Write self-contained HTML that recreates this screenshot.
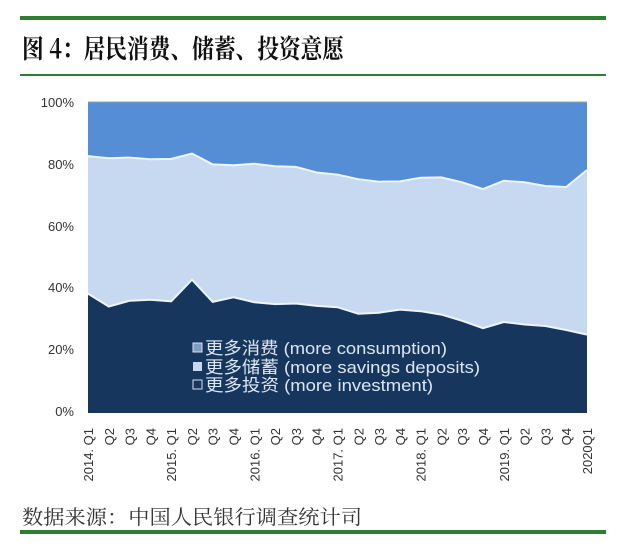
<!DOCTYPE html>
<html><head><meta charset="utf-8"><style>
html,body{margin:0;padding:0;background:#fff;}
svg{display:block;}
</style></head><body>
<svg width="624" height="550" xmlns="http://www.w3.org/2000/svg">
<rect x="20" y="16" width="586" height="4" fill="#2e7d32"/>
<text x="22" y="58" textLength="322" lengthAdjust="spacingAndGlyphs" font-family="'Noto Serif CJK SC','Liberation Serif',serif" font-weight="bold" font-size="26" fill="#111">图 4：居民消费、储蓄、投资意愿</text>
<rect x="20" y="74" width="586" height="2" fill="#2e7d32"/>

<rect x="88" y="102" width="499" height="311" fill="#558ed5"/>
<polygon fill="#c6d9f0" points="88,156.1 108.8,158.2 129.6,157.6 150.4,159.2 171.2,158.9 192,153.6 212.7,164.4 233.5,165.3 254.3,163.8 275.1,166.3 295.9,166.9 316.7,172.5 337.5,174.6 358.3,179.2 379.1,181.7 399.9,181.4 420.6,177.7 441.4,177.4 462.2,182.3 483,189.1 503.8,180.8 524.6,182.3 545.4,186 566.2,187 587,170 587,413 88,413"/>
<polyline fill="none" stroke="#eef4fb" stroke-width="2" points="88,156.1 108.8,158.2 129.6,157.6 150.4,159.2 171.2,158.9 192,153.6 212.7,164.4 233.5,165.3 254.3,163.8 275.1,166.3 295.9,166.9 316.7,172.5 337.5,174.6 358.3,179.2 379.1,181.7 399.9,181.4 420.6,177.7 441.4,177.4 462.2,182.3 483,189.1 503.8,180.8 524.6,182.3 545.4,186 566.2,187 587,170"/>
<polygon fill="#17365d" points="88,293.6 108.8,306.6 129.6,300.7 150.4,299.8 171.2,301.3 192,279.7 212.7,301.9 233.5,297.3 254.3,302.2 275.1,304.1 295.9,303.5 316.7,305.9 337.5,307.2 358.3,313.7 379.1,312.7 399.9,309.6 420.6,311.2 441.4,314.6 462.2,320.8 483,328.2 503.8,322 524.6,324.5 545.4,326 566.2,330 587,334.7 587,413 88,413"/>
<polyline fill="none" stroke="#eef4fb" stroke-width="2" points="88,293.6 108.8,306.6 129.6,300.7 150.4,299.8 171.2,301.3 192,279.7 212.7,301.9 233.5,297.3 254.3,302.2 275.1,304.1 295.9,303.5 316.7,305.9 337.5,307.2 358.3,313.7 379.1,312.7 399.9,309.6 420.6,311.2 441.4,314.6 462.2,320.8 483,328.2 503.8,322 524.6,324.5 545.4,326 566.2,330 587,334.7"/>
<line x1="88" y1="102" x2="587" y2="102" stroke="#8aa" stroke-width="1"/>

<g font-family="'Liberation Sans',sans-serif" font-size="13" fill="#333" text-anchor="end">
<text x="74" y="107">100%</text>
<text x="74" y="169">80%</text>
<text x="74" y="231">60%</text>
<text x="74" y="292">40%</text>
<text x="74" y="354">20%</text>
<text x="74" y="416">0%</text>
</g>

<g font-family="'Liberation Sans','Noto Sans CJK SC',sans-serif" font-size="17" fill="#dde6f2">
<rect x="193" y="343" width="9" height="9" fill="#7f9cc4" stroke="#dde" stroke-width="1"/>
<text x="205" y="354" textLength="242" lengthAdjust="spacingAndGlyphs">更多消费 (more consumption)</text>
<rect x="193" y="362" width="9" height="9" fill="#c6d9f0"/>
<text x="205" y="373" textLength="275" lengthAdjust="spacingAndGlyphs">更多储蓄 (more savings deposits)</text>
<rect x="193" y="380" width="9" height="9" fill="none" stroke="#dde" stroke-width="1"/>
<text x="205" y="391" textLength="228" lengthAdjust="spacingAndGlyphs">更多投资 (more investment)</text>
</g>

<g font-family="'Liberation Sans',sans-serif" font-size="13" fill="#333" text-anchor="end">
<text transform="translate(93,428) rotate(-90)">2014. Q1</text>
<text transform="translate(113.8,428) rotate(-90)">Q2</text>
<text transform="translate(134.6,428) rotate(-90)">Q3</text>
<text transform="translate(155.4,428) rotate(-90)">Q4</text>
<text transform="translate(176.2,428) rotate(-90)">2015. Q1</text>
<text transform="translate(197,428) rotate(-90)">Q2</text>
<text transform="translate(217.7,428) rotate(-90)">Q3</text>
<text transform="translate(238.5,428) rotate(-90)">Q4</text>
<text transform="translate(259.3,428) rotate(-90)">2016. Q1</text>
<text transform="translate(280.1,428) rotate(-90)">Q2</text>
<text transform="translate(300.9,428) rotate(-90)">Q3</text>
<text transform="translate(321.7,428) rotate(-90)">Q4</text>
<text transform="translate(342.5,428) rotate(-90)">2017. Q1</text>
<text transform="translate(363.3,428) rotate(-90)">Q2</text>
<text transform="translate(384.1,428) rotate(-90)">Q3</text>
<text transform="translate(404.9,428) rotate(-90)">Q4</text>
<text transform="translate(425.6,428) rotate(-90)">2018. Q1</text>
<text transform="translate(446.4,428) rotate(-90)">Q2</text>
<text transform="translate(467.2,428) rotate(-90)">Q3</text>
<text transform="translate(488,428) rotate(-90)">Q4</text>
<text transform="translate(508.8,428) rotate(-90)">2019. Q1</text>
<text transform="translate(529.6,428) rotate(-90)">Q2</text>
<text transform="translate(550.4,428) rotate(-90)">Q3</text>
<text transform="translate(571.2,428) rotate(-90)">Q4</text>
<text transform="translate(592,428) rotate(-90)">2020Q1</text>
</g>

<text x="22" y="524" textLength="340" lengthAdjust="spacingAndGlyphs" font-family="'Noto Serif CJK SC','Liberation Serif',serif" font-size="20" fill="#333">数据来源：中国人民银行调查统计司</text>
<rect x="20" y="530" width="586" height="4" fill="#2e7d32"/>
</svg>
</body></html>
